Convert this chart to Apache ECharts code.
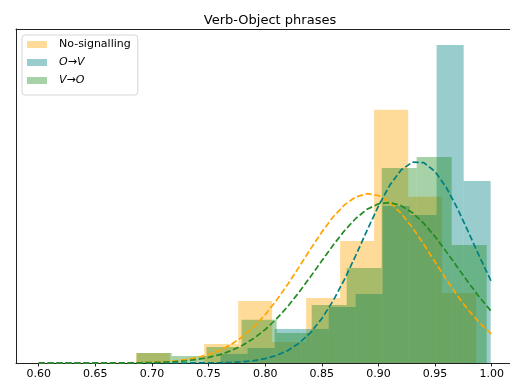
<!DOCTYPE html>
<html>
<head>
<meta charset="utf-8">
<script src="https://cdn.jsdelivr.net/npm/echarts@6/dist/echarts.min.js"></script>
<style>html,body{margin:0;padding:0;background:#fff}#c{width:510px;height:383px}</style>
</head>
<body>
<div id="c"></div>
<script>
// ---- data ----
var title = 'Verb-Object phrases';
var seriesNames = ['No-signalling', 'O\u2192V', 'V\u2192O'];

// histogram bin edges (x values) and bar heights (density)
var noSigEdges = [0.6861, 0.7161, 0.7461, 0.7762, 0.8062, 0.8362, 0.8662, 0.8962, 0.9263, 0.9563, 0.9863];
var noSigHeights = [0.41, 0.00, 0.78, 2.53, 0.86, 2.65, 4.98, 10.33, 6.78, 2.86];

var ovEdges = [0.7607, 0.7845, 0.8084, 0.8322, 0.8561, 0.8799, 0.9037, 0.9276, 0.9514, 0.9753, 0.9991];
var ovHeights = [0.37, 0.61, 1.39, 1.39, 2.29, 2.82, 6.41, 6.04, 12.98, 7.43];

var voEdges = [0.6865, 0.7174, 0.7483, 0.7792, 0.8102, 0.8411, 0.8720, 0.9029, 0.9338, 0.9647, 0.9956];
var voHeights = [0.41, 0.29, 0.65, 1.76, 1.22, 2.37, 3.88, 7.96, 8.41, 4.82];

// fitted-curve samples (dashed lines), x from 0.60 to 1.00 in steps of 0.01
var curveX = [0.60, 0.61, 0.62, 0.63, 0.64, 0.65, 0.66, 0.67, 0.68, 0.69,
              0.70, 0.71, 0.72, 0.73, 0.74, 0.75, 0.76, 0.77, 0.78, 0.79,
              0.80, 0.81, 0.82, 0.83, 0.84, 0.85, 0.86, 0.87, 0.88, 0.89,
              0.90, 0.91, 0.92, 0.93, 0.94, 0.95, 0.96, 0.97, 0.98, 0.99, 1.00];
var noSigCurve = [0.000, 0.000, 0.000, 0.000, 0.001, 0.001, 0.002, 0.004, 0.008, 0.016,
                  0.028, 0.049, 0.084, 0.138, 0.221, 0.344, 0.517, 0.756, 1.071, 1.475,
                  1.971, 2.555, 3.214, 3.923, 4.647, 5.342, 5.959, 6.451, 6.777, 6.908,
                  6.834, 6.561, 6.111, 5.525, 4.847, 4.126, 3.409, 2.732, 2.126, 1.605, 1.176];
var ovCurve = [0.000, 0.000, 0.000, 0.000, 0.000, 0.000, 0.000, 0.000, 0.000, 0.000,
               0.000, 0.000, 0.001, 0.001, 0.003, 0.006, 0.013, 0.026, 0.052, 0.098,
               0.177, 0.307, 0.509, 0.811, 1.239, 1.811, 2.538, 3.408, 4.387, 5.413,
               6.400, 7.251, 7.875, 8.196, 8.176, 7.815, 7.160, 6.286, 5.289, 4.266, 3.297];
var voCurve = [0.000, 0.000, 0.000, 0.000, 0.000, 0.001, 0.002, 0.003, 0.006, 0.011,
               0.019, 0.033, 0.056, 0.092, 0.147, 0.227, 0.343, 0.504, 0.722, 1.005,
               1.364, 1.799, 2.312, 2.891, 3.519, 4.168, 4.808, 5.397, 5.898, 6.273,
               6.495, 6.546, 6.422, 6.133, 5.700, 5.158, 4.543, 3.895, 3.250, 2.640, 2.088];

var xTicks = [0.60, 0.65, 0.70, 0.75, 0.80, 0.85, 0.90, 0.95, 1.00];

// ---- styling ----
var histColors = ['rgba(255,165,0,0.4)', 'rgba(0,128,128,0.4)', 'rgba(34,139,34,0.4)'];
var lineColors = ['#FFA500', '#008080', '#228B22'];

function binData(edges, heights) {
  var out = [];
  for (var i = 0; i < heights.length; i++) out.push([edges[i], edges[i + 1], heights[i]]);
  return out;
}
function pairs(xs, ys) {
  return xs.map(function (x, i) { return [x, ys[i]]; });
}
function histSeries(name, edges, heights, color) {
  return {
    name: name,
    type: 'custom',
    z: 2,
    clip: true,
    itemStyle: { color: color },
    encode: { x: [0, 1], y: 2 },
    data: binData(edges, heights),
    renderItem: function (params, api) {
      var p0 = api.coord([api.value(0), 0]);
      var p1 = api.coord([api.value(1), api.value(2)]);
      return {
        type: 'rect',
        shape: { x: p0[0], y: p1[1], width: p1[0] - p0[0], height: p0[1] - p1[1] },
        style: { fill: color, stroke: null }
      };
    }
  };
}
function curveSeries(name, ys, color) {
  return {
    name: name + ' fit',
    type: 'line',
    z: 5,
    data: pairs(curveX, ys),
    smooth: false,
    showSymbol: false,
    silent: true,
    lineStyle: { color: color, width: 1.7, type: [6.2, 2.7] }
  };
}

var yTop = 12.98 * 1.05;
var spine = { color: '#222', width: 1 };

var chart = echarts.init(document.getElementById('c'), null, { renderer: 'canvas' });
chart.setOption({
  animation: false,
  backgroundColor: '#fff',
  textStyle: { fontFamily: 'DejaVu Sans' },
  title: {
    text: title, left: 265, top: 9, textAlign: 'center',
    textStyle: { fontFamily: 'DejaVu Sans', fontSize: 13, fontWeight: 'normal', color: '#000' }
  },
  legend: {
    orient: 'vertical', left: 22, top: 35,
    padding: [4, 7, 9, 5],
    itemGap: 7, itemWidth: 20, itemHeight: 7,
    backgroundColor: '#fff', borderColor: '#d6d6d6', borderWidth: 1, borderRadius: 3,
    icon: 'rect',
    textStyle: { fontFamily: 'DejaVu Sans', fontSize: 11, color: '#000', padding: [0, 0, 0, 7] },
    data: [
      { name: seriesNames[0], itemStyle: { color: histColors[0] } },
      { name: seriesNames[1], itemStyle: { color: histColors[1] }, textStyle: { fontStyle: 'italic' } },
      { name: seriesNames[2], itemStyle: { color: histColors[2] }, textStyle: { fontStyle: 'italic' } }
    ]
  },
  grid: { left: 16, right: 0, top: 29, bottom: 20, containLabel: false },
  xAxis: [{
    type: 'value', min: 0.58, max: 1.0162,
    splitLine: { show: false },
    axisLine: { show: true, lineStyle: spine },
    axisTick: { show: true, length: 3.5, lineStyle: { color: '#222' }, customValues: xTicks },
    axisLabel: {
      margin: 6, fontFamily: 'DejaVu Sans', fontSize: 11, color: '#000',
      customValues: xTicks,
      formatter: function (v) { return v.toFixed(2); }
    }
  }, {
    type: 'value', position: 'top', min: 0.58, max: 1.0162,
    splitLine: { show: false },
    axisLine: { show: true, lineStyle: spine },
    axisTick: { show: false }, axisLabel: { show: false }
  }],
  yAxis: {
    type: 'value', min: 0, max: yTop,
    axisLine: { show: true, lineStyle: spine },
    axisTick: { show: false }, axisLabel: { show: false },
    splitLine: { show: false }
  },
  series: [
    histSeries(seriesNames[0], noSigEdges, noSigHeights, histColors[0]),
    histSeries(seriesNames[1], ovEdges, ovHeights, histColors[1]),
    histSeries(seriesNames[2], voEdges, voHeights, histColors[2]),
    curveSeries(seriesNames[0], noSigCurve, lineColors[0]),
    curveSeries(seriesNames[1], ovCurve, lineColors[1]),
    curveSeries(seriesNames[2], voCurve, lineColors[2])
  ]
});
</script>
</body>
</html>
